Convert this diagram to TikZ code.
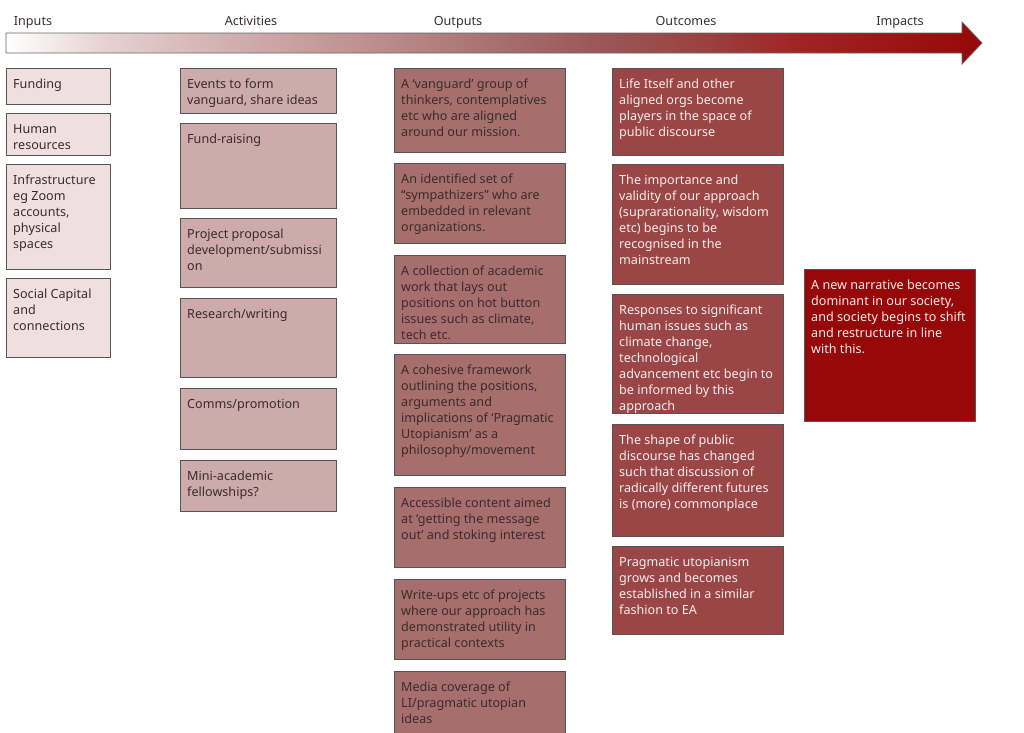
\documentclass[tikz,border=0pt]{standalone}
\usepackage{fontspec}
\setmainfont{Noto Sans}
\definecolor{cin}{HTML}{EFDFE0}
\definecolor{cact}{HTML}{CCABAA}
\definecolor{cout}{HTML}{A66F6E}
\definecolor{cocm}{HTML}{9B4646}
\definecolor{cimp}{HTML}{970808}
\definecolor{bord}{HTML}{555555}
\definecolor{dtxt}{HTML}{3A2C2C}
\definecolor{ltxt}{HTML}{F6ECEC}
\definecolor{g1}{HTML}{E6D2D2}
\definecolor{g2}{HTML}{D6B6B6}
\definecolor{g3}{HTML}{BA8888}
\definecolor{g4}{HTML}{A87070}
\definecolor{g5}{HTML}{9C5858}
\definecolor{g6}{HTML}{9A4242}
\definecolor{g7}{HTML}{A02424}
\pgfdeclarehorizontalshading{arrshade}{100bp}{color(0bp)=(white); color(25bp)=(white); color(30bp)=(g1); color(35bp)=(g2); color(45bp)=(g3); color(50bp)=(g4); color(55bp)=(g5); color(60.5bp)=(g6); color(65.5bp)=(g7); color(75bp)=(cimp); color(100bp)=(cimp)}
\newcommand\bx[7]{%
  \node[boxbase,fill=#2,minimum width=#5pt,minimum height=#6pt,anchor=north west] (#1) at (#3,#4) {};
  \node[boxtxt,anchor=north west] (#1-t) at ([xshift=7pt,yshift=-8pt]#1.north west) {\rule{0pt}{12pt}#7};}
\begin{document}
\begin{tikzpicture}[x=1pt,y=-1pt,
  boxbase/.style={draw=bord,line width=0.9pt,inner sep=0pt},
  boxtxt/.style={inner sep=0pt,align=left,font=\fontsize{12.6}{16}\selectfont,text=dtxt},
  hdr/.style={font=\fontsize{12.6}{16}\selectfont,text=dtxt,anchor=base}]
\useasboundingbox (0,0) rectangle (1024,732);
\clip (0,0) rectangle (1024,732);
% headers
\node[hdr] (h1) at (33,25) {Inputs};
\node[hdr] (h2) at (251,25) {Activities};
\node[hdr] (h3) at (458,25) {Outputs};
\node[hdr] (h4) at (686,25) {Outcomes};
\node[hdr] (h5) at (900,25) {Impacts};
% arrow
\shade[shading=arrshade,draw=black!60,line width=0.8pt]
  (6,33) -- (962,33) -- (962,22) -- (982,43) -- (962,64) -- (962,53) -- (6,53) -- cycle;
% inputs
\bx{i1}{cin}{6}{68}{104}{36}{Funding}
\bx{i2}{cin}{6}{113}{104}{42}{Human\\resources}
\bx{i3}{cin}{6}{164}{104}{105}{Infrastructure\\eg Zoom\\accounts,\\physical\\spaces}
\bx{i4}{cin}{6}{278}{104}{79}{Social Capital\\and\\connections}
% activities
\bx{a1}{cact}{180}{68}{156}{45}{Events to form\\vanguard, share ideas}
\bx{a2}{cact}{180}{123}{156}{85}{Fund-raising}
\bx{a3}{cact}{180}{218}{156}{69}{Project proposal\\development/submissi\\on}
\bx{a4}{cact}{180}{298}{156}{79}{Research/writing}
\bx{a5}{cact}{180}{388}{156}{61}{Comms/promotion}
\bx{a6}{cact}{180}{460}{156}{51}{Mini-academic\\fellowships?}
% outputs
\bx{o1}{cout}{394}{68}{171}{84}{A ‘vanguard’ group of\\thinkers, contemplatives\\etc who are aligned\\around our mission.}
\bx{o2}{cout}{394}{163}{171}{80}{An identified set of\\“sympathizers” who are\\embedded in relevant\\organizations.}
\bx{o3}{cout}{394}{255}{171}{88}{A collection of academic\\work that lays out\\positions on hot button\\issues such as climate,\\tech etc.}
\bx{o4}{cout}{394}{354}{171}{121}{A cohesive framework\\outlining the positions,\\arguments and\\implications of ‘Pragmatic\\Utopianism’ as a\\philosophy/movement}
\bx{o5}{cout}{394}{487}{171}{80}{Accessible content aimed\\at ‘getting the message\\out’ and stoking interest}
\bx{o6}{cout}{394}{579}{171}{80}{Write-ups etc of projects\\where our approach has\\demonstrated utility in\\practical contexts}
\bx{o7}{cout}{394}{671}{171}{80}{Media coverage of\\LI/pragmatic utopian\\ideas}
% outcomes
\tikzset{boxtxt/.append style={text=ltxt}}
\bx{c1}{cocm}{612}{68}{171}{87}{Life Itself and other\\aligned orgs become\\players in the space of\\public discourse}
\bx{c2}{cocm}{612}{164}{171}{120}{The importance and\\validity of our approach\\(suprarationality, wisdom\\etc) begins to be\\recognised in the\\mainstream}
\bx{c3}{cocm}{612}{294}{171}{119}{Responses to significant\\human issues such as\\climate change,\\technological\\advancement etc begin to\\be informed by this\\approach}
\bx{c4}{cocm}{612}{424}{171}{112}{The shape of public\\discourse has changed\\such that discussion of\\radically different futures\\is (more) commonplace}
\bx{c5}{cocm}{612}{546}{171}{88}{Pragmatic utopianism\\grows and becomes\\established in a similar\\fashion to EA}
% impacts
\bx{m1}{cimp}{804}{269}{171}{152}{A new narrative becomes\\dominant in our society,\\and society begins to shift\\and restructure in line\\with this.}
\end{tikzpicture}
\end{document}
